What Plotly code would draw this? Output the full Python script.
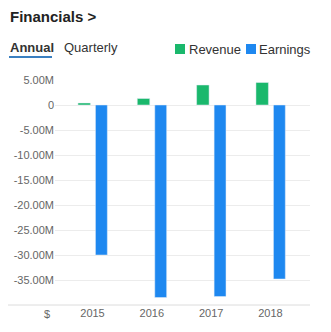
import plotly.graph_objects as go

years = [2015, 2016, 2017, 2018]
year_labels = ["2015", "2016", "2017", "2018"]
revenue = [0.4e6, 1.3e6, 4.0e6, 4.5e6]
earnings = [-30.0e6, -38.5e6, -38.3e6, -34.8e6]
y_ticks = [5e6, 0, -5e6, -10e6, -15e6, -20e6, -25e6, -30e6, -35e6]
y_tick_labels = ["5.00M", "0", "-5.00M", "-10.00M", "-15.00M", "-20.00M",
                 "-25.00M", "-30.00M", "-35.00M"]

GREEN = "#1ab86c"
BLUE = "#1e88f0"
FONT = "Arial, Liberation Sans, sans-serif"

W, H = 331, 332
L, R, T, B = 55, 21, 80, 27
PW, PH = W - L - R, H - T - B


def px(x):
    return (x - L) / PW


def py(y):
    return (H - B - y) / PH


fig = go.Figure()
fig.add_trace(go.Bar(x=years, y=revenue, name="Revenue", marker_color=GREEN,
                     width=0.21, offset=-0.245, showlegend=False))
fig.add_trace(go.Bar(x=years, y=earnings, name="Earnings", marker_color=BLUE,
                     width=0.2, offset=0.05, showlegend=False))

fig.update_layout(
    width=W, height=H,
    margin=dict(l=L, r=R, t=T, b=B, pad=0),
    paper_bgcolor="white", plot_bgcolor="white",
    font=dict(family=FONT, size=11, color="#666"),
    barmode="overlay",
    xaxis=dict(range=[2014.368, 2018.666], tickvals=years, ticktext=year_labels,
               showgrid=False, zeroline=False, showline=False, ticks="",
               tickfont=dict(size=11, color="#666"), fixedrange=True),
    yaxis=dict(range=[-40e6, 5e6], tickvals=y_ticks, ticktext=y_tick_labels,
               showgrid=True, gridcolor="#ececec", gridwidth=1, zeroline=False,
               showline=False, ticks="", tickfont=dict(size=11, color="#666"),
               fixedrange=True),
)

shapes = [
    dict(type="line", xref="paper", yref="paper", x0=px(8), x1=px(310),
         y0=0, y1=0, line=dict(color="#dcdcdc", width=1)),
    dict(type="line", xref="paper", yref="paper", x0=px(9), x1=px(52),
         y0=py(57), y1=py(57), line=dict(color="#3a7fc0", width=2)),
    dict(type="rect", xref="paper", yref="paper", x0=px(175), x1=px(185),
         y0=py(54), y1=py(44), fillcolor=GREEN, line=dict(width=0)),
    dict(type="rect", xref="paper", yref="paper", x0=px(246), x1=px(256),
         y0=py(54), y1=py(44), fillcolor=BLUE, line=dict(width=0)),
]
fig.update_layout(shapes=shapes)

annots = [
    dict(text="<b>Financials ></b>", x=px(8), y=py(17), xanchor="left",
         yanchor="middle", font=dict(size=15, color="#222")),
    dict(text="<b>Annual</b>", x=px(8), y=py(48), xanchor="left",
         yanchor="middle", font=dict(size=13, color="#333")),
    dict(text="Quarterly", x=px(62), y=py(48), xanchor="left",
         yanchor="middle", font=dict(size=13, color="#333")),
    dict(text="Revenue", x=px(187), y=py(49), xanchor="left",
         yanchor="middle", font=dict(size=13, color="#333")),
    dict(text="Earnings", x=px(257), y=py(49), xanchor="left",
         yanchor="middle", font=dict(size=13, color="#333")),
    dict(text="$", x=px(47), y=py(314), xanchor="center",
         yanchor="middle", font=dict(size=11, color="#666")),
]
for a in annots:
    a.update(xref="paper", yref="paper", showarrow=False)
fig.update_layout(annotations=annots)

fig.write_html("out.html")
